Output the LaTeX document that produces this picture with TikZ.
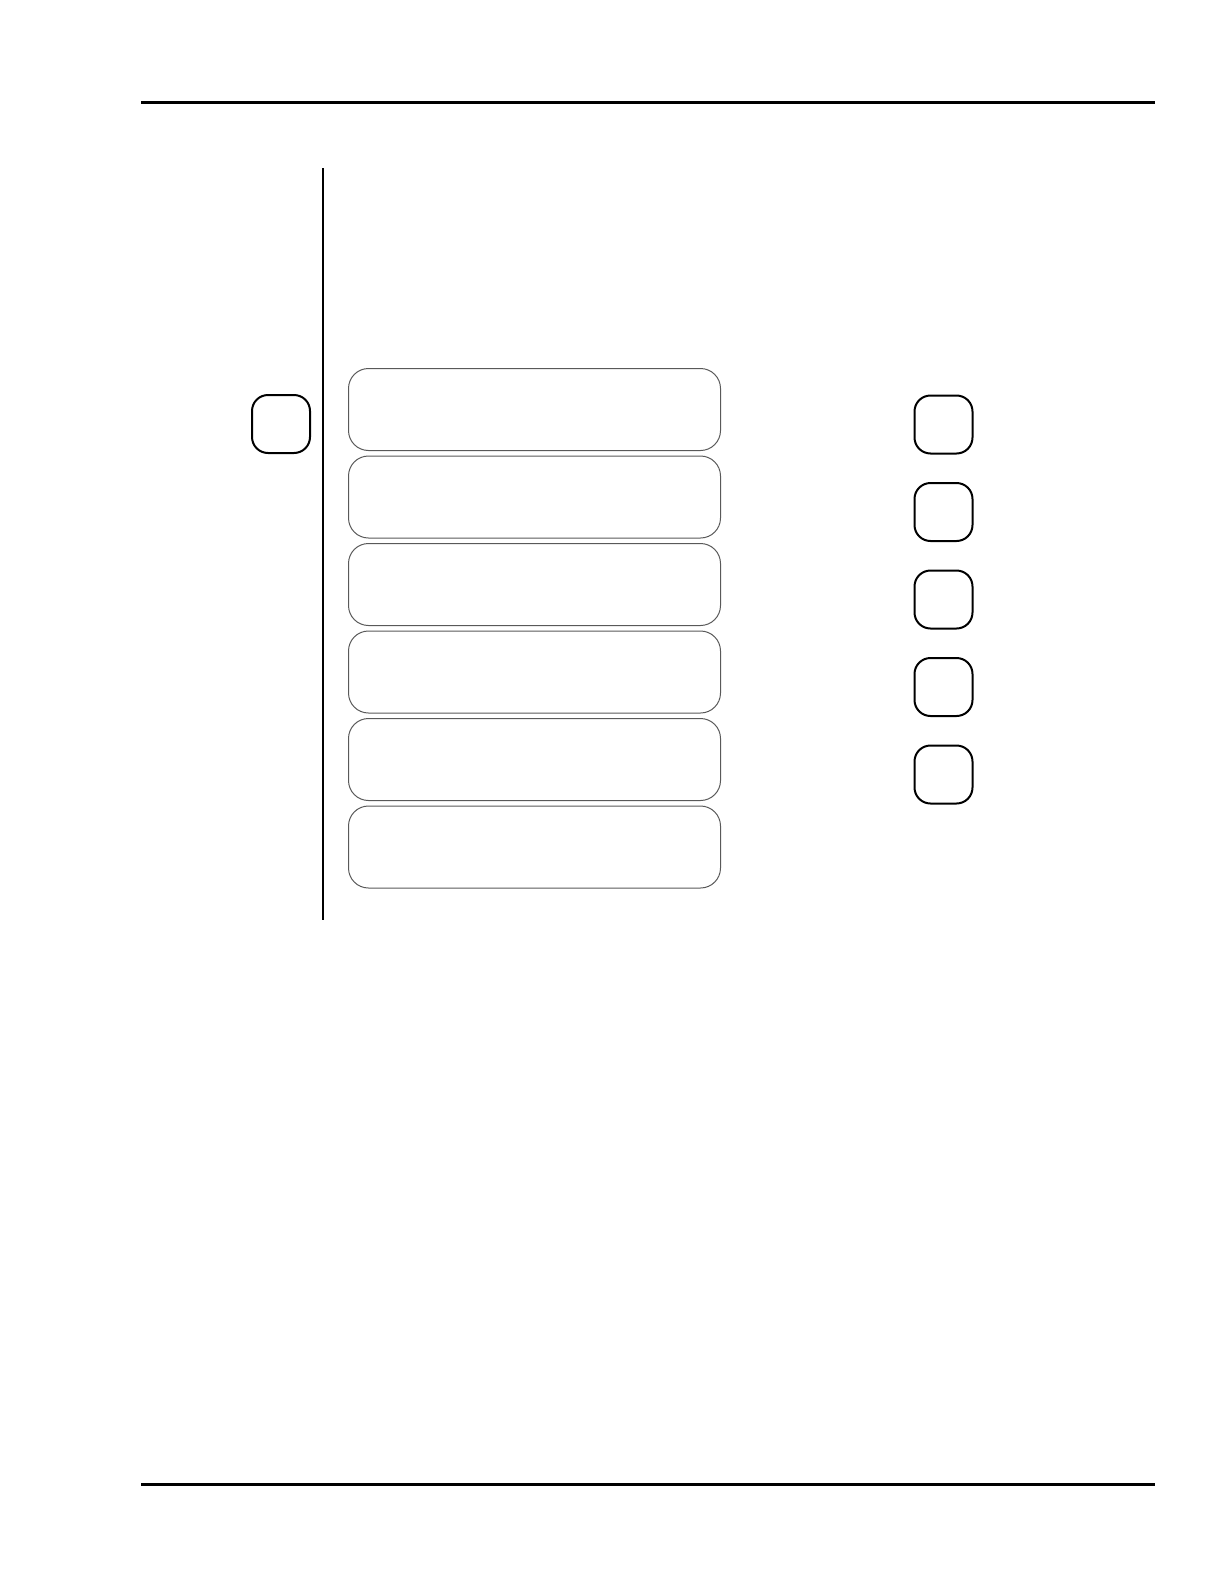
\documentclass[tikz,border=0pt]{standalone}
\usetikzlibrary{positioning}
\tikzset{
  panel/.style={draw=black!65, line width=0.5pt, rounded corners=10pt, minimum width=186pt, minimum height=41pt, inner sep=0pt},
  key/.style={draw, line width=1pt, rounded corners=8pt, minimum size=29pt, inner sep=0pt},
  rule/.style={line width=1.5pt}
}
\begin{document}
\begin{tikzpicture}[x=0.5pt, y=-0.5pt]
                    \useasboundingbox (0,0) rectangle (1224,1584);
                    % page rules
                    \coordinate (topL) at (141,103);
                    \coordinate (topR) at (1155,103);
                    \coordinate (botL) at (141,1484);
                    \coordinate (botR) at (1155,1484);
                    \draw [rule] (topL)--(topR);
                    \draw [rule] (botL)--(botR);
                    % margin line
                    \coordinate (barT) at (323,168);
                    \coordinate (barB) at (323,920);
                    \draw [line width=0.8pt] (barT)--(barB);
                    % left key
                    \node [key] (keyL) at (281,424) {};
                    % panels
                    \node [panel] (row1) at (534.5,409.5) {};
                    \node [panel, below=2.25pt of row1] (row2) {};
                    \node [panel, below=2.25pt of row2] (row3) {};
                    \node [panel, below=2.25pt of row3] (row4) {};
                    \node [panel, below=2.25pt of row4] (row5) {};
                    \node [panel, below=2.25pt of row5] (row6) {};
                    % right keys
                    \node [key] (key1) at (943.5,424.5) {};
                    \node [key, below=13.75pt of key1] (key2) {};
                    \node [key, below=13.75pt of key2] (key3) {};
                    \node [key, below=13.75pt of key3] (key4) {};
                    \node [key, below=13.75pt of key4] (key5) {};
\end{tikzpicture}
\end{document}
